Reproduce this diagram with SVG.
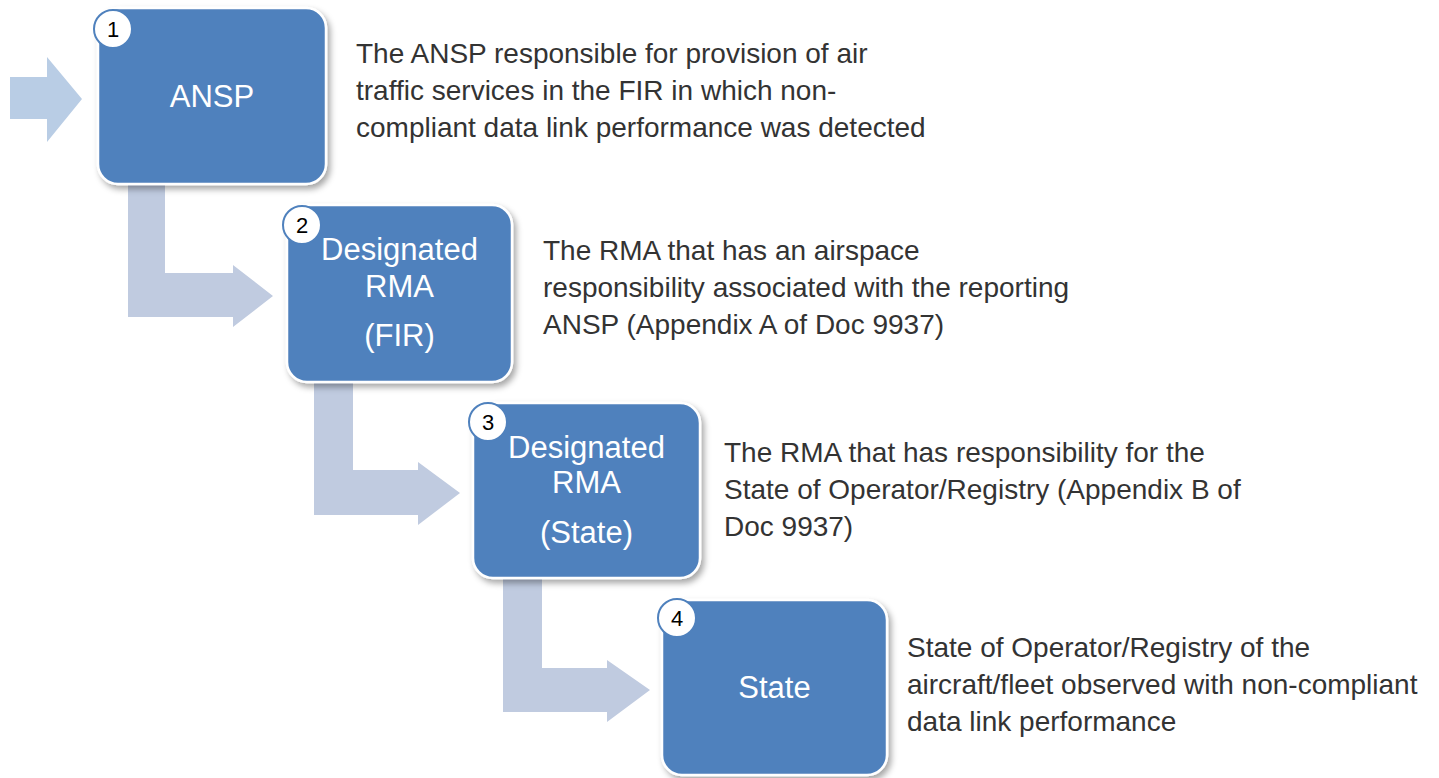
<svg xmlns="http://www.w3.org/2000/svg" width="1439" height="778" viewBox="0 0 1439 778">
<defs>
<filter id="sh" x="-10%" y="-10%" width="130%" height="130%">
<feDropShadow dx="3" dy="4" stdDeviation="3" flood-color="#000" flood-opacity="0.35"/>
</filter>
<style>
.box{fill:#4F81BD;stroke:#fff;stroke-width:2.5;filter:url(#sh)}
.num{fill:#fff;stroke:#4F81BD;stroke-width:2}
.numt{font-family:"Liberation Sans",Arial,sans-serif;font-size:22px;fill:#000;text-anchor:middle}
.lbl{font-family:"Liberation Sans",Arial,sans-serif;font-size:31px;fill:#fff;text-anchor:middle}
.desc{font-family:"Liberation Sans",Arial,sans-serif;font-size:28px;fill:#333}
.arr{fill:#C0CBE0}
.arr0{fill:#B9CDE5}
</style>
</defs>
<rect width="1439" height="778" fill="#fff"/>
<g id="connectors">
<polygon class="arr0" points="10,77 47,77 47,57 82,99 47,142 47,119 10,119"/>
<polygon class="arr" points="128,180 165,180 165,273 233,273 233,265 273,296 233,327 233,317 128,317"/>
<polygon class="arr" points="314,378 353,378 353,470 418,470 418,462 460,493 418,525 418,515 314,515"/>
<polygon class="arr" points="503,574 542,574 542,668 607,668 607,660 650,690 607,722 607,712 503,712"/>
</g>
<g id="node1">
<rect class="box" x="98" y="8" width="228" height="176" rx="20"/>
<circle class="num" cx="113" cy="29" r="19"/>
<text class="numt" x="113" y="37">1</text>
<text class="lbl" x="212" y="107">ANSP</text>
<text class="desc" x="356" y="63">The ANSP responsible for provision of air</text>
<text class="desc" x="356" y="100">traffic services in the FIR in which non-</text>
<text class="desc" x="356" y="137">compliant data link performance was detected</text>
</g>
<g id="node2">
<rect class="box" x="287" y="205" width="225" height="177" rx="20"/>
<circle class="num" cx="302" cy="225" r="19"/>
<text class="numt" x="302" y="233">2</text>
<text class="lbl" x="399.5" y="260">Designated</text>
<text class="lbl" x="399.5" y="297">RMA</text>
<text class="lbl" x="399.5" y="346">(FIR)</text>
<text class="desc" x="543" y="260">The RMA that has an airspace</text>
<text class="desc" x="543" y="297">responsibility associated with the reporting</text>
<text class="desc" x="543" y="334">ANSP (Appendix A of Doc 9937)</text>
</g>
<g id="node3">
<rect class="box" x="473" y="403" width="227" height="175" rx="20"/>
<circle class="num" cx="488" cy="422" r="19"/>
<text class="numt" x="488" y="430">3</text>
<text class="lbl" x="586.5" y="458">Designated</text>
<text class="lbl" x="586.5" y="493">RMA</text>
<text class="lbl" x="586.5" y="543">(State)</text>
<text class="desc" x="724" y="462">The RMA that has responsibility for the</text>
<text class="desc" x="724" y="499">State of Operator/Registry (Appendix B of</text>
<text class="desc" x="724" y="536">Doc 9937)</text>
</g>
<g id="node4">
<rect class="box" x="662" y="600" width="225" height="175" rx="20"/>
<circle class="num" cx="677" cy="618" r="19"/>
<text class="numt" x="677" y="626">4</text>
<text class="lbl" x="774.5" y="698">State</text>
<text class="desc" x="907" y="657">State of Operator/Registry of the</text>
<text class="desc" x="907" y="694">aircraft/fleet observed with non-compliant</text>
<text class="desc" x="907" y="731">data link performance</text>
</g>
</svg>
